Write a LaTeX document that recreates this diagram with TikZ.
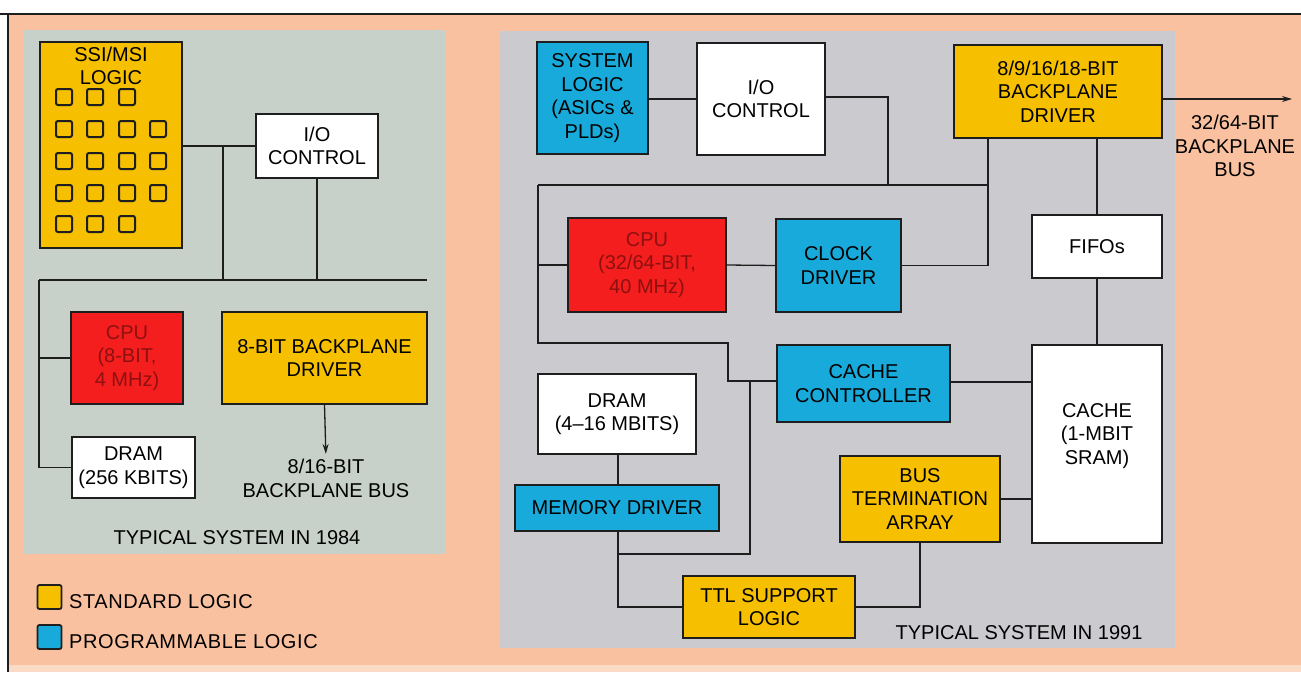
\documentclass[tikz,border=0pt]{standalone}
\usepackage{fontspec}
\setmainfont{Liberation Sans}
\newfontfamily\legfont[LetterSpace=3]{Liberation Sans}
\usetikzlibrary{arrows.meta}
\definecolor{peach}{HTML}{F9C1A0}
\definecolor{grayL}{HTML}{C8D1C9}
\definecolor{grayR}{HTML}{CACACF}
\definecolor{stdyel}{HTML}{F6C000}
\definecolor{cpured}{HTML}{F41E1E}
\definecolor{cputxt}{HTML}{8E1010}
\definecolor{progblue}{HTML}{18AADA}
\definecolor{ink}{HTML}{1E1E1E}
\tikzset{
  blk/.style={draw=ink, line width=1.3pt, inner sep=0pt, align=center,
    font=\fontsize{20}{23.5}\selectfont},
  stdbox/.style={blk, fill=stdyel},
  progbox/.style={blk, fill=progblue},
  plainbox/.style={blk, fill=white},
  cpubox/.style={blk, fill=cpured, text=cputxt},
  lbl/.style={inner sep=0pt, align=center, font=\fontsize{20}{23.5}\selectfont},
  leglbl/.style={inner sep=0pt, anchor=west, font=\legfont\fontsize{20}{23.5}\selectfont},
  wire/.style={draw=ink, line width=1.3pt},
  chip/.style={draw=ink, line width=2pt, rounded corners=2pt, minimum size=16pt, inner sep=0pt},
  legsq/.style={draw=ink, line width=1.8pt, rounded corners=2pt, minimum size=24pt, inner sep=0pt}
}
\begin{document}
\begin{tikzpicture}[x=1pt,y=-1pt]
\useasboundingbox (0,0) rectangle (1301,672);
% backgrounds
\fill[white] (0,0) rectangle (1301,672);
\fill[peach] (8,14) rectangle (1301,665);
\fill[peach!60!white] (8,665) rectangle (1301,672);
\draw[ink, line width=1.2pt] (0,14) -- (1301,14);
\draw[ink, line width=1.2pt] (8,14) -- (8,672);
\fill[grayL] (24,30) rectangle (445,554);
\fill[grayR] (500,31) rectangle (1175,648);

% ---------------- 1984 system ----------------
\node[stdbox, minimum width=142pt, minimum height=206pt] (ssi) at (111,145) {};
\node[lbl] (ssit) at (111,66) {SSI/MSI\\LOGIC};
\foreach \r/\n in {97/3,129/4,161/4,193/4,224/3}{
  \foreach \c [count=\i] in {64,95,127,158}{
    \ifnum\i>\n\else \node[chip] (ch\r-\i) at (\c,\r) {};\fi
  }
}
\node[plainbox, minimum width=122pt, minimum height=64pt] (io1) at (317,146) {I/O\\CONTROL};
\node[cpubox, minimum width=112pt, minimum height=92pt] (cpu1) at (127,358) {CPU\\(8-BIT,\\4 MHz)};
\node[stdbox, minimum width=205pt, minimum height=92pt] (drv1) at (324.5,358) {8-BIT BACKPLANE\\DRIVER};
\node[plainbox, minimum width=123pt, minimum height=61pt] (dram1) at (133.5,467.5) {DRAM\\(256 KBITS)};
\node[lbl, anchor=north] (bus1) at (326,459) {8/16-BIT\\BACKPLANE BUS};
\node[lbl] (t1984) at (237,538) {TYPICAL SYSTEM IN 1984};

\coordinate (bl) at (39,280);
\coordinate (br) at (427,280);
\coordinate (j1) at (223,146);
\draw[wire] (ssi.east |- io1.west) -- (io1.west);
\draw[wire] (j1) -- (j1 |- bl);
\draw[wire] (io1.south) -- (io1.south |- bl);
\draw[wire] (bl) -- (br);
\draw[wire] (bl) |- (dram1.west);
\draw[wire] (bl |- cpu1.west) -- (cpu1.west);
\draw[wire, -{Stealth[length=10pt,width=6pt]}, shorten >=5pt] (drv1.south) -- (bus1.north);

% legend
\node[legsq, fill=stdyel] (lgs) at (49.5,597) {};
\node[leglbl] (lgst) at (69,602) {STANDARD LOGIC};
\node[legsq, fill=progblue] (lgp) at (49.5,637) {};
\node[leglbl] (lgpt) at (69,642) {PROGRAMMABLE LOGIC};

% ---------------- 1991 system ----------------
\node[progbox, minimum width=111pt, minimum height=112pt] (syslog) at (592.5,98) {SYSTEM\\LOGIC\\(ASICs \&\\PLDs)};
\node[plainbox, minimum width=128pt, minimum height=112pt] (io2) at (761,99) {I/O\\CONTROL};
\node[stdbox, minimum width=208pt, minimum height=93pt] (drv2) at (1058,91.5) {8/9/16/18-BIT\\BACKPLANE\\DRIVER};
\node[lbl] (bus2) at (1235,146) {32/64-BIT\\BACKPLANE\\BUS};
\coordinate (busend) at (1292,99);
\node[cpubox, minimum width=158pt, minimum height=94pt] (cpu2) at (647,265) {CPU\\(32/64-BIT,\\40 MHz)};
\node[progbox, minimum width=125pt, minimum height=93pt] (clk) at (838.5,265.5) {CLOCK\\DRIVER};
\node[plainbox, minimum width=130pt, minimum height=63pt] (fifo) at (1097,246.5) {FIFOs};
\node[progbox, minimum width=173pt, minimum height=77pt] (cc) at (863.5,383.5) {CACHE\\CONTROLLER};
\node[plainbox, minimum width=130pt, minimum height=198pt] (cache) at (1097,444) {};
\node[lbl] (cachet) at (1097,436) {CACHE\\(1-MBIT\\SRAM)};
\node[plainbox, minimum width=158pt, minimum height=80pt] (dram2) at (617,414) {DRAM\\(4--16 MBITS)};
\node[progbox, minimum width=204pt, minimum height=46pt] (md) at (617,508) {MEMORY DRIVER};
\node[stdbox, minimum width=160pt, minimum height=86pt] (bta) at (920,499) {BUS\\TERMINATION\\ARRAY};
\node[stdbox, minimum width=172pt, minimum height=62pt] (ttl) at (769,607) {TTL SUPPORT\\LOGIC};
\node[lbl] (t1991) at (1019,633) {TYPICAL SYSTEM IN 1991};

\coordinate (rb1) at (538,185);
\coordinate (rb2) at (988,185);
\coordinate (jA) at (888,185);
\coordinate (k1) at (538,343);
\coordinate (k2) at (728,381);
\coordinate (k3) at (750,381);
\coordinate (k4) at (618,554);

\draw[wire, -{Stealth[length=10pt,width=6pt]}] (drv2.east |- busend) -- (busend);
\draw[wire] (syslog.east |- io2.west) -- (io2.west);
\draw[wire] (io2.east |- 0,97) -| (jA);
\draw[wire] (rb1) -- (rb2);
\draw[wire] (drv2.south -| rb2) |- (clk.east);
\draw[wire] (rb1) -- (k1) -| (k2) -- (cc.west |- k2);
\draw[wire] (rb1 |- cpu2.west) -- (cpu2.west);
\draw[wire] (cpu2.east) -- (clk.west);
\draw[wire] (drv2.south -| fifo.north) -- (fifo.north);
\draw[wire] (fifo.south) -- (cache.north);
\draw[wire] (cc.east |- 0,382) -- (cache.west |- 0,382);
\draw[wire] (k3) |- (k4);
\draw[wire] (dram2.south -| k4) -- (md.north -| k4);
\draw[wire] (md.south -| k4) |- (ttl.west);
\draw[wire] (bta.east) -- (cache.west |- bta.east);
\draw[wire] (bta.south) |- (ttl.east);
\end{tikzpicture}
\end{document}
